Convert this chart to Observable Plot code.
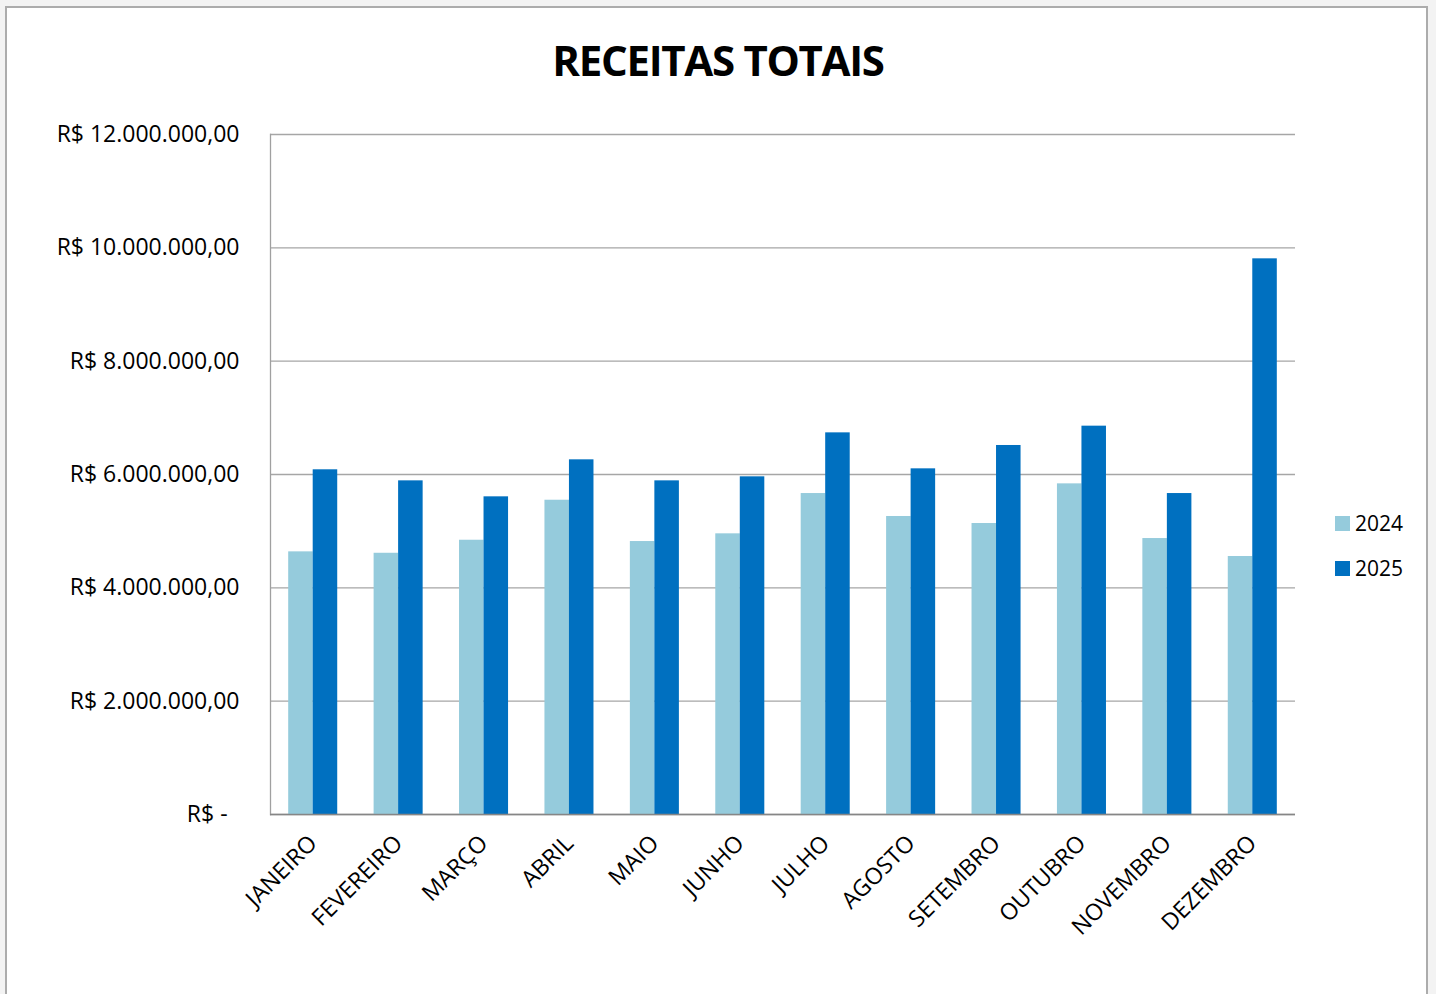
<!DOCTYPE html>
<html>
<head>
<meta charset="utf-8">
<script src="https://cdn.jsdelivr.net/npm/d3@7"></script>
<script src="https://cdn.jsdelivr.net/npm/@observablehq/plot@0.6"></script>
<style>
  html, body { margin: 0; padding: 0; background: #f3f3f3; width: 1436px; height: 994px; overflow: hidden; }
  #box { position: absolute; left: 5px; top: 6px; width: 1423px; height: 1000px; background: #fff;
         border-left: 2px solid #acacac; border-top: 2px solid #acacac; border-right: 2px solid #acacac; box-sizing: border-box; }
  #title { position: absolute; left: 0; top: 39px; width: 1436px; text-align: center; font-family: "Open Sans", sans-serif;
           font-weight: 700; font-size: 42px; color: #000; margin: 0; line-height: 1; letter-spacing: -1.3px; }
  #chart { position: absolute; left: 0; top: 110px; }
  #chart svg text { font-size: 23px; }
  .legend { position: absolute; left: 1335px; font-family: "Open Sans", sans-serif; font-size: 21px; color: #000; }
  .legend .sw { position: absolute; left: 0; width: 15px; height: 15px; }
  .legend .lb { position: absolute; left: 20px; line-height: 1; white-space: nowrap; }
</style>
</head>
<body>
<div id="box"></div>
<h1 id="title">RECEITAS TOTAIS</h1>
<div id="chart"></div>
<div id="legend"></div>
<script>
const months = ["JANEIRO","FEVEREIRO","MARÇO","ABRIL","MAIO","JUNHO","JULHO","AGOSTO","SETEMBRO","OUTUBRO","NOVEMBRO","DEZEMBRO"];
const series = ["2024", "2025"];
const values2024 = [4635000, 4610000, 4840000, 5546000, 4817000, 4953000, 5664000, 5259000, 5135000, 5835000, 4870000, 4553000];
const values2025 = [6083000, 5888000, 5606000, 6259000, 5888000, 5959000, 6735000, 6100000, 6512000, 6853000, 5664000, 9806000];
const yTicks = [0, 2000000, 4000000, 6000000, 8000000, 10000000, 12000000];
const colors = ["#95cbdc", "#0070c0"];

const d2024 = months.map((m, i) => ({month: m, year: series[0], value: values2024[i]}));
const d2025 = months.map((m, i) => ({month: m, year: series[1], value: values2025[i]}));

const fmt = v => v === 0 ? "R$ -\u00A0\u00A0" : "R$ " + d3.format(",.2f")(v).replace(/,/g, "#").replace(/\./g, ",").replace(/#/g, ".");

const half = 24.5;
const plot = Plot.plot({
  width: 1340,
  height: 884,
  marginLeft: 270,
  marginRight: 45,
  marginTop: 24,
  marginBottom: 180,
  style: {fontFamily: "Open Sans, sans-serif", fontSize: "23px", color: "#000", background: "transparent"},
  x: {domain: months, paddingInner: 0.426, paddingOuter: 0.213, round: false, label: null},
  y: {domain: [0, 12000000], label: null},
  color: {domain: series, range: colors},
  marks: [
    Plot.gridY(yTicks, {stroke: "#a6a6a6", strokeOpacity: 1, strokeWidth: 1.3}),
    Plot.barY(d2024, {x: "month", y: "value", fill: "year", insetRight: half}),
    Plot.barY(d2025, {x: "month", y: "value", fill: "year", insetLeft: half}),
    Plot.frame({anchor: "left", stroke: "#a0a0a0", strokeWidth: 1.3}),
    Plot.ruleY([0], {stroke: "#868686", strokeWidth: 1.5}),
    Plot.axisY(yTicks, {tickSize: 0, tickPadding: 31, tickFormat: fmt, fontSize: 23, label: null}),
    Plot.axisX({tickSize: 0, tickPadding: 25, tickRotate: -45, fontSize: 23, label: null})
  ]
});
document.getElementById("chart").appendChild(plot);

const legend = document.getElementById("legend");
const legendTops = [516, 561];
series.forEach((s, i) => {
  const item = document.createElement("div");
  item.className = "legend";
  item.style.top = legendTops[i] + "px";
  item.innerHTML = `<div class="sw" style="background:${colors[i]};top:0"></div><div class="lb" style="top:-3px">${s}</div>`;
  legend.appendChild(item);
});
</script>
</body>
</html>
